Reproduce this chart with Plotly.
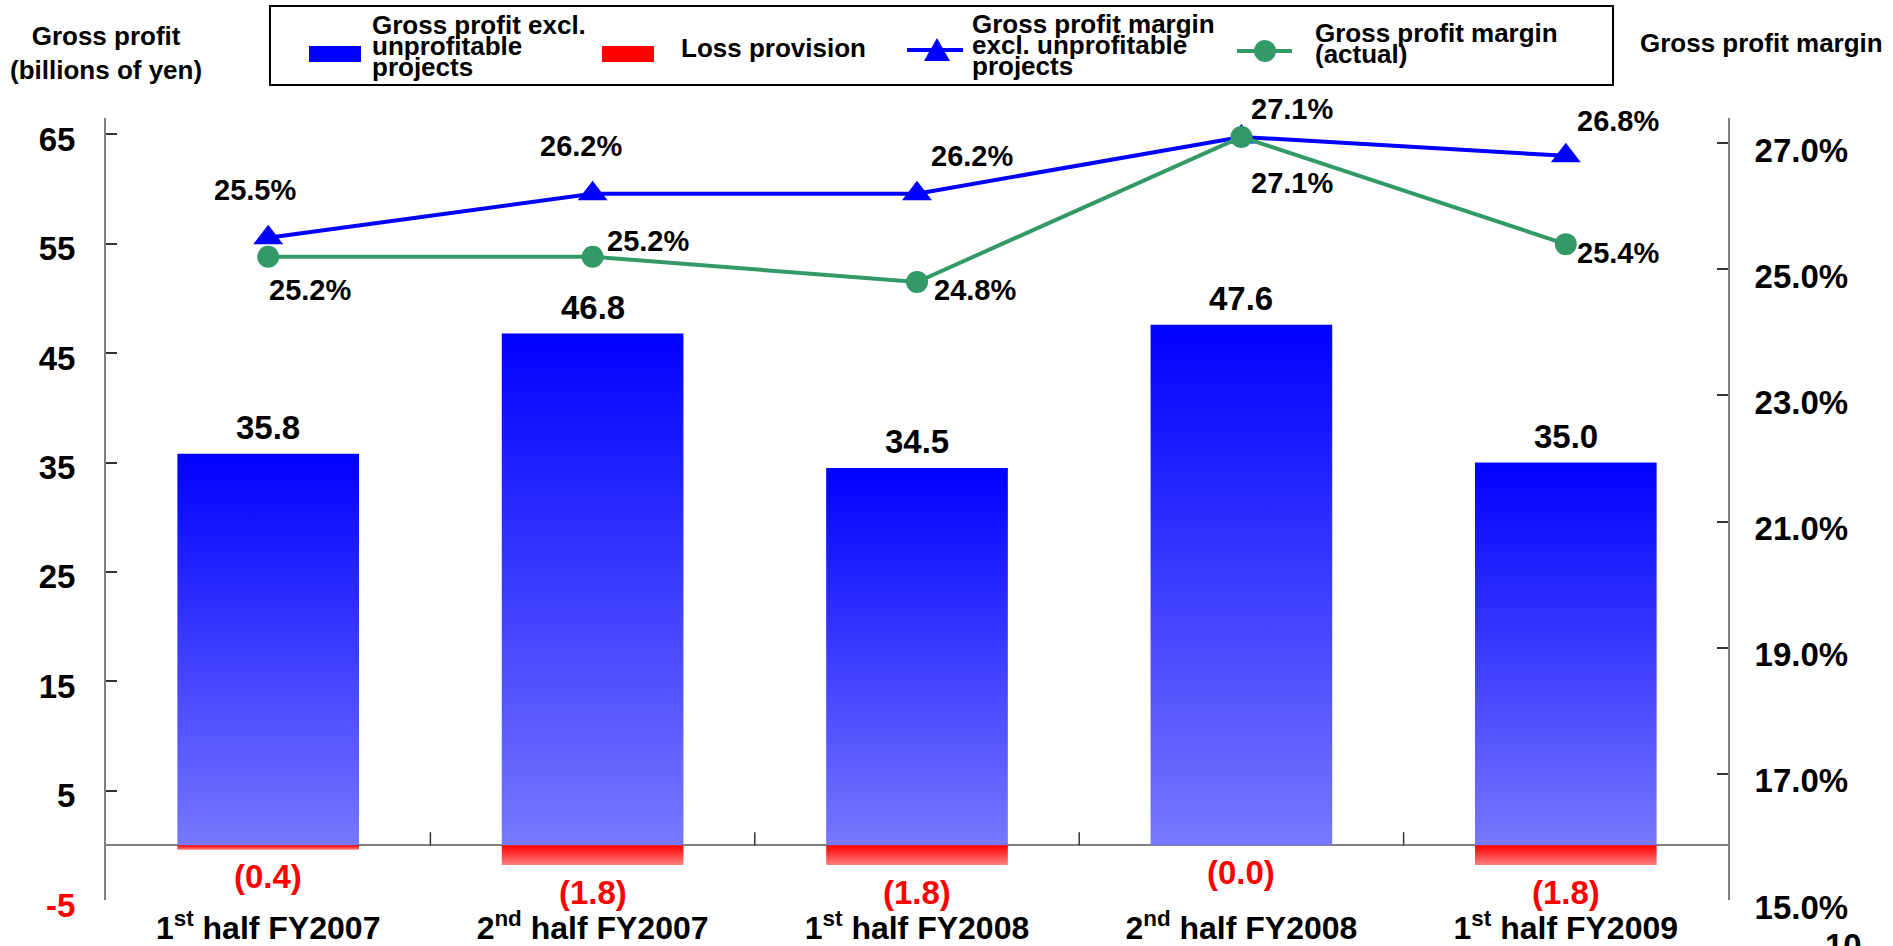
import plotly.graph_objects as go

# ---------------- data ----------------
categories = ["1<sup>st</sup> half FY2007", "2<sup>nd</sup> half FY2007",
              "1<sup>st</sup> half FY2008", "2<sup>nd</sup> half FY2008",
              "1<sup>st</sup> half FY2009"]
gross_profit_excl = [35.8, 46.8, 34.5, 47.6, 35.0]      # billions of yen
loss_provision = [0.4, 1.8, 1.8, 0.0, 1.8]              # billions of yen (shown negative)
margin_excl = [25.5, 26.2, 26.2, 27.1, 26.8]            # %
margin_actual = [25.2, 25.2, 24.8, 27.1, 25.4]          # %
left_tick_vals = [-5, 5, 15, 25, 35, 45, 55, 65]
right_tick_vals = [15, 17, 19, 21, 23, 25, 27]

# ---------------- layout constants ----------------
W, H = 1893, 946
L, R, T, B = 106, 1728, 118, 900
FONT = "Liberation Sans, Arial, sans-serif"
BAR_W = 0.56
BLUE = "#0000FF"
BLUE_LIGHT = "#7878FF"
RED = "#FF0000"
RED_LIGHT = "#FF8080"
GREEN = "#339966"

# label pixel offsets (dx, dy) for percentage labels
excl_offsets = [(-13, -48), (-12, -48), (55, -38), (51, -28), (52, -35)]
actual_offsets = [(42, 33), (55, -16), (58, 8), (51, 46), (52, 9)]


def px(X):
    return (X - L) / (R - L)


def py(Y):
    return (B - Y) / (B - T)


fig = go.Figure()
xs_idx = list(range(len(categories)))

# gross profit bars (vertical gradient)
for i, v in zip(xs_idx, gross_profit_excl):
    fig.add_trace(go.Scatter(
        x=[i - BAR_W / 2, i + BAR_W / 2, i + BAR_W / 2, i - BAR_W / 2, i - BAR_W / 2],
        y=[0, 0, v, v, 0],
        mode="lines", line=dict(width=0, color=BLUE),
        fill="toself", fillcolor=BLUE,
        fillgradient=dict(type="vertical",
                          colorscale=[[0, BLUE_LIGHT], [1, BLUE]],
                          start=0, stop=v),
        hoverinfo="skip", showlegend=False,
        name="Gross profit excl. unprofitable projects"))

# loss provision bars (negative)
for i, v in zip(xs_idx, loss_provision):
    if v <= 0:
        continue
    fig.add_trace(go.Scatter(
        x=[i - BAR_W / 2, i + BAR_W / 2, i + BAR_W / 2, i - BAR_W / 2, i - BAR_W / 2],
        y=[0, 0, -v, -v, 0],
        mode="lines", line=dict(width=0, color=RED),
        fill="toself", fillcolor=RED,
        fillgradient=dict(type="vertical",
                          colorscale=[[0, RED], [1, RED_LIGHT]],
                          start=0, stop=-v),
        hoverinfo="skip", showlegend=False, name="Loss provision"))

# margin lines
fig.add_trace(go.Scatter(
    x=xs_idx, y=margin_excl, yaxis="y2", mode="lines+markers",
    line=dict(color=BLUE, width=4),
    marker=dict(symbol="triangle-up", size=26, color=BLUE),
    name="Gross profit margin excl. unprofitable projects", showlegend=False))
fig.add_trace(go.Scatter(
    x=xs_idx, y=margin_actual, yaxis="y2", mode="lines+markers",
    line=dict(color=GREEN, width=4),
    marker=dict(symbol="circle", size=22, color=GREEN),
    name="Gross profit margin (actual)", showlegend=False))

annotations = []
# bar value labels
for i, v in zip(xs_idx, gross_profit_excl):
    annotations.append(dict(x=i, y=v, xref="x", yref="y", text=f"{v:.1f}",
                            showarrow=False, yanchor="middle", yshift=26,
                            font=dict(family=FONT, size=33, color="black", weight="bold")))
for i, v in zip(xs_idx, loss_provision):
    annotations.append(dict(x=i, y=-v, xref="x", yref="y", text=f"({v:.1f})",
                            showarrow=False, yanchor="middle", yshift=-27,
                            font=dict(family=FONT, size=33, color=RED, weight="bold")))
# percentage labels
for i, v, (dx, dy) in zip(xs_idx, margin_excl, excl_offsets):
    annotations.append(dict(x=i, y=v, xref="x", yref="y2", text=f"{v:.1f}%",
                            showarrow=False, xshift=dx, yshift=-dy,
                            font=dict(family=FONT, size=29, color="black", weight="bold")))
for i, v, (dx, dy) in zip(xs_idx, margin_actual, actual_offsets):
    annotations.append(dict(x=i, y=v, xref="x", yref="y2", text=f"{v:.1f}%",
                            showarrow=False, xshift=dx, yshift=-dy,
                            font=dict(family=FONT, size=29, color="black", weight="bold")))

# axis titles
annotations.append(dict(x=px(106), y=py(53), xref="paper", yref="paper",
                        text="Gross profit<br>(billions of yen)", showarrow=False,
                        xanchor="center", yanchor="middle",
                        font=dict(family=FONT, size=26, color="black", weight="bold")))
annotations.append(dict(x=px(1762), y=py(43), xref="paper", yref="paper",
                        text="Gross profit margin", showarrow=False,
                        xanchor="center", yanchor="middle",
                        font=dict(family=FONT, size=26, color="black", weight="bold")))
# stray label at the bottom right (cut off by the page edge)
annotations.append(dict(x=px(1838), y=py(945), xref="paper", yref="paper",
                        text="-10", showarrow=False, xanchor="center", yanchor="middle",
                        font=dict(family=FONT, size=33, color="black", weight="bold")))

# custom legend
LEG_FONT = dict(family=FONT, size=26, color="black", weight="bold")
legend_text = [
    (370, ["Gross profit excl.", "unprofitable", "projects"], [25, 46, 67]),
    (679, ["Loss provision"], [48]),
    (970, ["Gross profit margin", "excl. unprofitable", "projects"], [24, 45, 66]),
    (1313, ["Gross profit margin", "(actual)"], [33, 54]),
]
for X, lines, ys in legend_text:
    for line, Y in zip(lines, ys):
        annotations.append(dict(x=px(X), y=py(Y), xref="paper", yref="paper",
                                text=line, showarrow=False, xanchor="left",
                                yanchor="middle", font=LEG_FONT))

shapes = [
    dict(type="rect", xref="paper", yref="paper", x0=px(270), x1=px(1613),
         y0=py(85), y1=py(6), line=dict(color="black", width=2), fillcolor="white",
         layer="below"),
    dict(type="rect", xref="paper", yref="paper", x0=px(309), x1=px(361),
         y0=py(62), y1=py(46), line=dict(width=0), fillcolor=BLUE),
    dict(type="rect", xref="paper", yref="paper", x0=px(602), x1=px(654),
         y0=py(62), y1=py(46), line=dict(width=0), fillcolor=RED),
    dict(type="line", xref="paper", yref="paper", x0=px(907), x1=px(963),
         y0=py(50), y1=py(50), line=dict(color=BLUE, width=4)),
    dict(type="path", xref="paper", yref="paper",
         path=f"M{px(924)},{py(61)} L{px(950)},{py(61)} L{px(937)},{py(38)} Z",
         line=dict(width=0), fillcolor=BLUE),
    dict(type="line", xref="paper", yref="paper", x0=px(1237), x1=px(1292),
         y0=py(51), y1=py(51), line=dict(color=GREEN, width=4)),
    dict(type="circle", xref="paper", yref="paper", x0=px(1254), x1=px(1276),
         y0=py(62), y1=py(40), line=dict(width=0), fillcolor=GREEN),
]
# category divider ticks on the zero line
for k in range(len(categories) - 1):
    shapes.append(dict(type="line", xref="x", yref="y", x0=k + 0.5, x1=k + 0.5,
                       y0=0, y1=1.2, line=dict(color="#333333", width=1.5)))

left_tick_text = [f"<span style='color:{RED}'>{v}</span>" if v < 0 else str(v)
                  for v in left_tick_vals]
right_tick_text = [f"{v:.1f}%" for v in right_tick_vals]

fig.update_layout(
    width=W, height=H, autosize=False,
    margin=dict(l=L, r=W - R, t=T, b=H - B, pad=0, autoexpand=False),
    paper_bgcolor="white", plot_bgcolor="white",
    showlegend=False,
    font=dict(family=FONT, color="black"),
    xaxis=dict(range=[-0.5, len(categories) - 0.5], tickvals=xs_idx, ticktext=categories,
               showgrid=False, zeroline=False, showline=False, ticks="",
               automargin=False,
               tickfont=dict(family=FONT, size=32, color="black", weight="bold"),
               ticklabelstandoff=6),
    yaxis=dict(range=[-5, 66.5], tickvals=left_tick_vals, ticktext=left_tick_text,
               showgrid=False, zeroline=True, zerolinecolor="#808080", zerolinewidth=2,
               showline=True, linecolor="#808080", linewidth=2, automargin=False,
               ticks="inside", ticklen=11, tickwidth=1.5, tickcolor="#333333",
               tickfont=dict(family=FONT, size=33, color="black", weight="bold"),
               ticklabelstandoff=22, ticklabelshift=5),
    yaxis2=dict(range=[15, 27.4], tickvals=right_tick_vals, ticktext=right_tick_text,
                overlaying="y", side="right", anchor="x", automargin=False,
                showgrid=False, zeroline=False,
                showline=True, linecolor="#808080", linewidth=2,
                ticks="inside", ticklen=11, tickwidth=1.5, tickcolor="#333333",
                tickfont=dict(family=FONT, size=33, color="black", weight="bold"),
                ticklabelstandoff=18, ticklabelshift=7),
    annotations=annotations,
    shapes=shapes,
)

fig.write_html("out.html")
